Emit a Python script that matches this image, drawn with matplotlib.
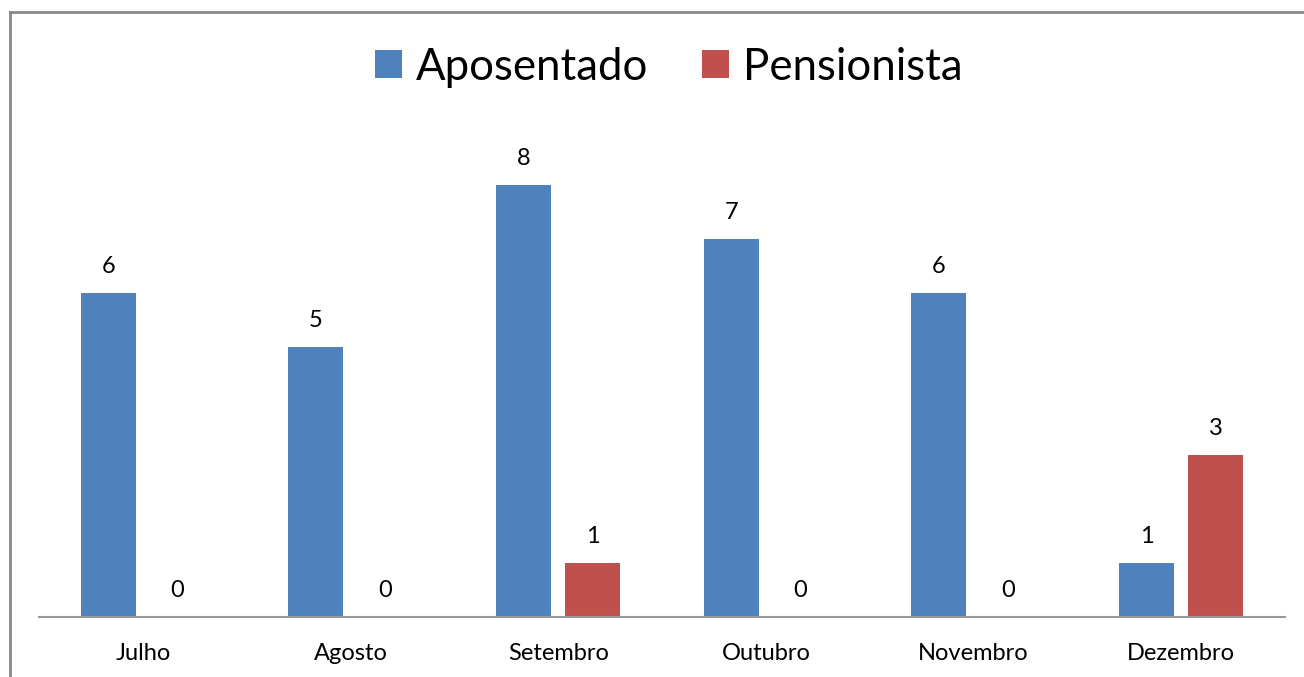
import matplotlib.pyplot as plt
import numpy as np
from matplotlib.lines import Line2D

months = ['Julho', 'Agosto', 'Setembro', 'Outubro', 'Novembro', 'Dezembro']
aposentado = [6, 5, 8, 7, 6, 1]
pensionista = [0, 0, 1, 0, 0, 3]

plt.rcParams['font.family'] = ['Lato', 'DejaVu Sans']

W, H = 1304, 677
fig = plt.figure(figsize=(W / 100, H / 100), dpi=100)
ax = fig.add_axes([39 / W, (H - 617) / H, 1246 / W, 486 / H])

x = np.arange(len(months))
bw = 0.265
off = 0.167
b1 = ax.bar(x - off, aposentado, bw, color='#4F81BD', label='Aposentado')
b2 = ax.bar(x + off, pensionista, bw, color='#C0504D', label='Pensionista')

for bars, vals in ((b1, aposentado), (b2, pensionista)):
    for r, v in zip(bars, vals):
        ax.annotate(str(v), (r.get_x() + r.get_width() / 2, v),
                    xytext=(0, 19), textcoords='offset points',
                    ha='center', va='center', fontsize=17)

ax.set_xlim(-0.5, len(months) - 0.5)
ax.set_ylim(0, 9)
ax.set_xticks(x)
ax.set_xticklabels(months, fontsize=17)
ax.tick_params(axis='x', length=0, pad=19)
ax.set_yticks([])
for s in ('top', 'right', 'left'):
    ax.spines[s].set_visible(False)
ax.spines['bottom'].set_color('#999999')
ax.spines['bottom'].set_linewidth(1.5)

fig.legend(handles=[b1, b2], loc='center', bbox_to_anchor=(669 / W, 1 - 67 / H),
           ncol=2, frameon=False, fontsize=31.5, handlelength=0.62, handleheight=0.62,
           handletextpad=0.32, columnspacing=1.23)

# outer chart border (only left and top visible)
fig.add_artist(Line2D([10 / W, 10 / W], [0, 1 - 12 / H], color='#888888', lw=2,
                      transform=fig.transFigure))
fig.add_artist(Line2D([10 / W, 1], [1 - 12 / H, 1 - 12 / H], color='#888888', lw=2,
                      transform=fig.transFigure))

fig.savefig('out.png', dpi=100)
